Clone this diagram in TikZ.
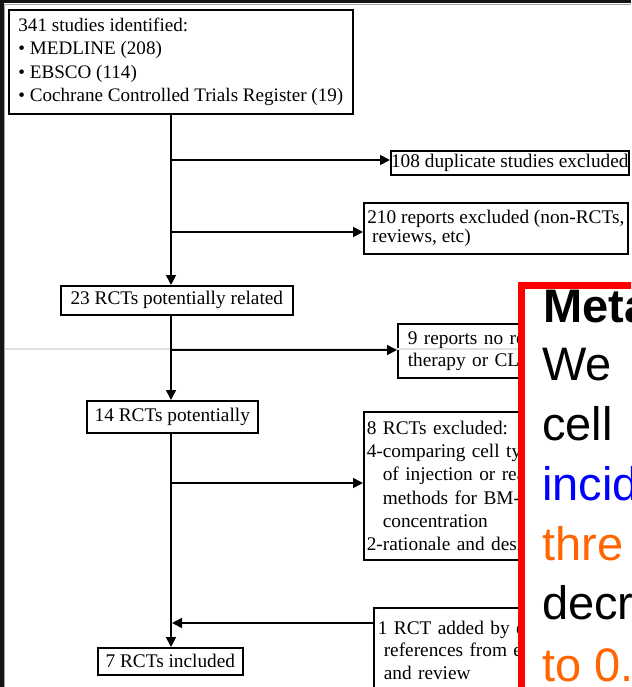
\documentclass[tikz,border=0pt]{standalone}
\usepackage{fontspec}
\setmainfont{Liberation Serif}
\newfontfamily\ovfont{Liberation Sans}
\usetikzlibrary{arrows.meta}
\definecolor{ovblue}{RGB}{0,0,255}
\definecolor{ovorange}{RGB}{255,102,0}
\definecolor{ovred}{RGB}{255,0,0}
\newcommand\fcsize{\fontsize{19.3}{23.3}\selectfont}
\tikzset{
  fcbox/.style={draw, line width=1.6pt, anchor=north west, inner ysep=0pt, font=\fcsize},
  conn/.style={line width=1.6pt, -{Triangle[length=10pt,width=10pt]}},
  ovtext/.style={anchor=base west, inner sep=0pt, font=\ovfont\fontsize{47}{56}\selectfont},
}
\begin{document}
\begin{tikzpicture}[x=1pt,y=-1pt]
\useasboundingbox (0,0) rectangle (631,687);
\clip (0,0) rectangle (631,687);
\fill[white] (0,0) rectangle (631,687);

% flowchart boxes
\node[fcbox, minimum width=344pt, minimum height=104pt, inner xsep=0pt, align=left, font=\fontsize{19.1}{23.4}\selectfont] (b1) at (8,9)
  {341 studies identified:\\ \textbullet\ MEDLINE (208)\\ \textbullet\ EBSCO (114)\\ \textbullet\ Cochrane Controlled Trials Register (19)};
\node[fcbox, minimum width=238pt, minimum height=24pt, inner xsep=0pt] (b108) at (390,150) {108 duplicate studies excluded};
\node[fcbox, minimum width=264pt, minimum height=51pt, inner xsep=0pt, align=left, font=\fontsize{19.3}{19}\selectfont] (b210) at (363,202)
  {210 reports excluded (non-RCTs,\\ \ reviews, etc)};
\node[fcbox, minimum width=232pt, minimum height=29pt, inner xsep=0pt] (b23) at (60,285) {23 RCTs potentially related};
\node[fcbox, minimum width=200pt, minimum height=54pt, inner xsep=10pt, text width=180pt, align=left, font=\fontsize{19.3}{22}\selectfont] (b9) at (397,323)
  {9 reports no re\\therapy or CL};
\node[fcbox, minimum width=171pt, minimum height=32pt, inner xsep=0pt] (b14) at (86,400) {14 RCTs potentially};
\node[fcbox, minimum width=230pt, minimum height=148pt, inner xsep=3pt, text width=224pt, align=left, font=\fontsize{19.3}{23.2}\selectfont] (b8) at (363,411)
  {8 RCTs excluded:\\4-comparing cell ty\\\hspace*{16pt}of injection or rea\\\hspace*{16pt}methods for BM-\\\hspace*{16pt}concentration\\2-rationale and desi};
\node[fcbox, minimum width=220pt, minimum height=85pt, inner xsep=4pt, text width=212pt, align=left, font=\fontsize{19.3}{22.5}\selectfont] (b1r) at (373,607)
  {1 RCT added by e\\\hspace*{6pt}references from e\\\hspace*{6pt}and review};
\node[fcbox, minimum width=145pt, minimum height=27pt, inner xsep=0pt] (b7) at (97,647) {7 RCTs included};

% screenshot artefact line
\draw[black!12, line width=1.3pt] (4,349) -- (518,349);

% connectors
\coordinate (t) at (171,0);
\coordinate (j1) at (171,160);
\coordinate (j2) at (171,232);
\coordinate (j3) at (171,350);
\coordinate (j4) at (171,483);
\coordinate (j5) at (172,623);
\draw[conn] (b1.south -| t) -- (b23.north -| t);
\draw[conn] (j1) -- (j1 -| b108.west);
\draw[conn] (j2) -- (j2 -| b210.west);
\draw[conn] (b23.south -| t) -- (b14.north -| t);
\draw[conn] (j3) -- (j3 -| b9.west);
\draw[conn] (b14.south -| t) -- (b7.north -| t);
\draw[conn] (j4) -- (j4 -| b8.west);
\draw[conn] (j5 -| b1r.west) -- (j5);

% overlay panel
\draw[ovred, fill=white, line width=7pt] (521.5,285.5) rectangle (720,760);
\node[ovtext, font=\ovfont\bfseries\fontsize{47}{56}\selectfont] (o1) at (543,322) {Meta};
\node[ovtext] (o2) at (542,380) {We};
\node[ovtext] (o3) at (542,440) {cell};
\node[ovtext, text=ovblue] (o4) at (542,500) {incid};
\node[ovtext, text=ovorange] (o5) at (542,560) {thre};
\node[ovtext] (o6) at (542,619) {decr};
\node[ovtext, text=ovorange] (o7) at (542,681) {to 0.};

% screen frame
\fill[black!92] (0,0) rectangle (631,3.5);
\fill[black!92] (0,0) rectangle (3.5,687);
\draw[black!35, line width=1pt] (4.3,687) -- (4.3,4.3) -- (631,4.3);
\end{tikzpicture}
\end{document}
